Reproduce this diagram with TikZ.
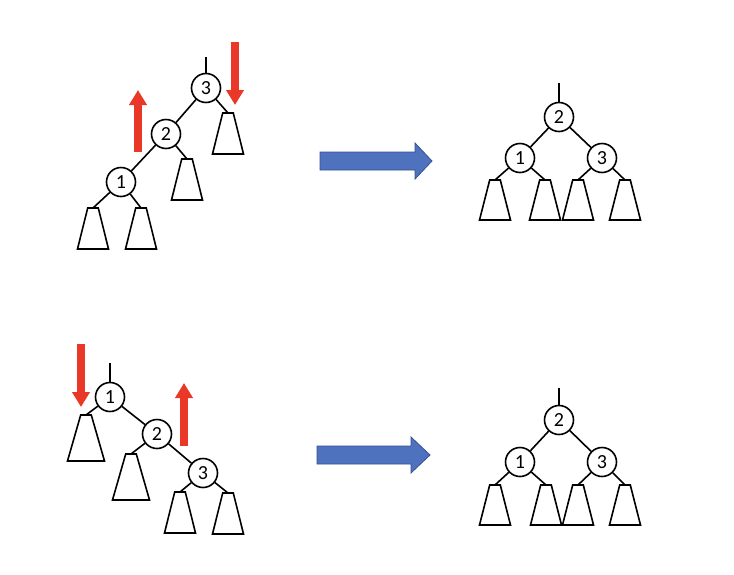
\documentclass[tikz,border=0pt]{standalone}
\usepackage{fontspec}
\setmainfont{Carlito}
\usetikzlibrary{arrows.meta}
\definecolor{rotred}{RGB}{233,56,40}
\definecolor{bfill}{RGB}{79,114,190}
\definecolor{bline}{RGB}{52,82,145}
\newcommand{\trapz}[3]{\draw[ln] (#1) +(-5.3,0) -- +(5.3,0) -- +(#2/2,#3) -- +(-#2/2,#3) -- cycle;}
\tikzset{
  ln/.style={line width=1.6pt, black, line join=miter},
  circ/.style={circle, draw, line width=1.6pt, fill=white, minimum size=29pt, inner sep=0pt, font=\fontsize{20}{20}\selectfont},
  redarr/.style={line width=8pt, rotred, -{Triangle[width=17pt,length=15pt]}},
  bluearr/.style={fill=bfill, draw=bline, line width=0.8pt, line join=miter},
}
\begin{document}
\begin{tikzpicture}[x=1pt,y=-1pt]
\path[use as bounding box, fill=white] (0,0) rectangle (734,574);

% ---------- top left ----------
\coordinate (s3) at (206,57);
\node[circ] (n3) at (206,88) {3};
\node[circ] (n2) at (166,134) {2};
\node[circ] (n1) at (121,182) {1};
\coordinate (ta) at (228,113);
\coordinate (tb) at (187,159);
\coordinate (tc) at (93,208);
\coordinate (td) at (141,208);
\draw[ln] (s3) -- (n3);
\draw[ln] (n3) -- (n2);
\draw[ln] (n2) -- (n1);
\draw[ln] (n3) -- (ta);
\draw[ln] (n2) -- (tb);
\draw[ln] (n1) -- (tc);
\draw[ln] (n1) -- (td);
\trapz{ta}{31}{41}
\trapz{tb}{31}{41}
\trapz{tc}{31}{41}
\trapz{td}{31}{41}
\coordinate (ru1s) at (138,152);
\coordinate (ru1e) at (138,90);
\draw[redarr] (ru1s) -- (ru1e);
\coordinate (rd1s) at (235,42);
\coordinate (rd1e) at (235,105);
\draw[redarr] (rd1s) -- (rd1e);

% ---------- top arrow ----------
\draw[bluearr] (320,152) -- (415,152) -- (415,143) -- (432,161) -- (415,179) -- (415,170) -- (320,170) -- cycle;

% ---------- top right ----------
\coordinate (sm2) at (559,83);
\node[circ] (m2) at (559,117) {2};
\node[circ] (m1) at (520,158) {1};
\node[circ] (m3) at (602,158) {3};
\coordinate (ua) at (495,180);
\coordinate (ub) at (545,180);
\coordinate (uc) at (578,180);
\coordinate (ud) at (625,180);
\draw[ln] (sm2) -- (m2);
\draw[ln] (m2) -- (m1);
\draw[ln] (m2) -- (m3);
\draw[ln] (m1) -- (ua);
\draw[ln] (m1) -- (ub);
\draw[ln] (m3) -- (uc);
\draw[ln] (m3) -- (ud);
\trapz{ua}{31}{40}
\trapz{ub}{31}{40}
\trapz{uc}{31}{40}
\trapz{ud}{31}{40}

% ---------- bottom left ----------
\coordinate (sp1) at (110,363);
\node[circ] (p1) at (110,397) {1};
\node[circ] (p2) at (157,434) {2};
\node[circ] (p3) at (203,473) {3};
\coordinate (va) at (86,415);
\coordinate (vb) at (131,454);
\coordinate (vc) at (180,492);
\coordinate (vd) at (228,493);
\draw[ln] (sp1) -- (p1);
\draw[ln] (p1) -- (p2);
\draw[ln] (p2) -- (p3);
\draw[ln] (p1) -- (va);
\draw[ln] (p2) -- (vb);
\draw[ln] (p3) -- (vc);
\draw[ln] (p3) -- (vd);
\trapz{va}{37}{46}
\trapz{vb}{37}{46}
\trapz{vc}{31}{41}
\trapz{vd}{31}{41}
\coordinate (rd2s) at (81,344);
\coordinate (rd2e) at (81,407);
\draw[redarr] (rd2s) -- (rd2e);
\coordinate (ru2s) at (184,446);
\coordinate (ru2e) at (184,383);
\draw[redarr] (ru2s) -- (ru2e);

% ---------- bottom arrow ----------
\draw[bluearr] (317,446) -- (411,446) -- (411,437) -- (430,455) -- (411,473) -- (411,464) -- (317,464) -- cycle;

% ---------- bottom right ----------
\coordinate (sq2) at (559,388);
\node[circ] (q2) at (559,420) {2};
\node[circ] (q1) at (520,462) {1};
\node[circ] (q3) at (602,462) {3};
\coordinate (wa) at (495,485);
\coordinate (wb) at (546,485);
\coordinate (wc) at (578,485);
\coordinate (wd) at (625,485);
\draw[ln] (sq2) -- (q2);
\draw[ln] (q2) -- (q1);
\draw[ln] (q2) -- (q3);
\draw[ln] (q1) -- (wa);
\draw[ln] (q1) -- (wb);
\draw[ln] (q3) -- (wc);
\draw[ln] (q3) -- (wd);
\trapz{wa}{31}{40}
\trapz{wb}{31}{40}
\trapz{wc}{31}{40}
\trapz{wd}{31}{40}
\end{tikzpicture}
\end{document}
